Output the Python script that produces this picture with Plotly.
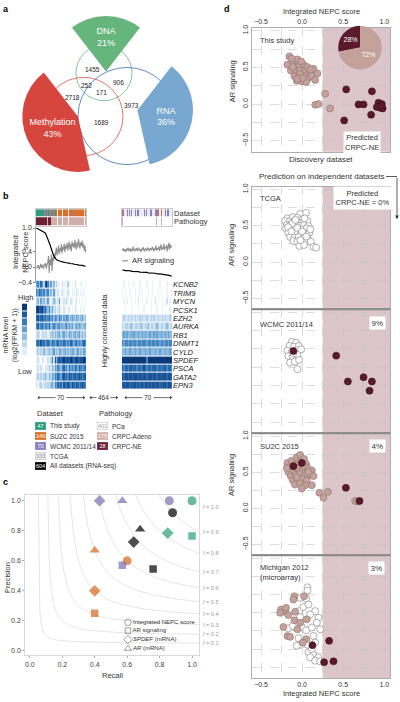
import numpy as np
import plotly.graph_objects as go

W, H = 400, 702
FONT = "Liberation Sans, Arial, Helvetica, sans-serif"
TXT = "#333333"


def PX(v):
    return v / W


def PY(v):
    return 1 - v / H


# ======================= DATA =======================
# ---- panel a ----
omics_labels = ["DNA", "RNA", "Methylation"]
omics_percent = [21, 36, 43]
overlap_counts = [1455, 252, 906, 171, 2718, 3973, 1689]

# ---- panel b ----
genes = ["KCNB2", "TRIM9", "MYCN", "PCSK1", "EZH2", "AURKA", "RB1",
         "DNMT1", "CYLD", "SPDEF", "PSCA", "GATA2", "EPN3"]

# dataset code: 0 This study, 1 SU2C, 2 WCMC, 3 TCGA ; pathology: 0 PCa, 1 CRPC-Adeno, 2 CRPC-NE
ds_left = [0, 0, 0, 0, 0, 0, 0, 0, 0, 0,
           0, 2, 0, 2, 0, 2, 1, 0, 2, 0,
           2, 1, 2, 0, 2, 1, 2, 0, 1, 1,
           3, 1, 1, 1, 1, 1, 1, 3, 1, 1,
           1, 1, 1, 1, 1, 3, 1, 1, 1, 1,
           1, 2, 1, 1, 3, 1, 1, 1, 1, 1,
           1, 3, 1, 1, 1, 1, 1, 3, 1, 1]
path_left = [2, 2, 2, 2, 2, 2, 2, 2, 2, 2,
             2, 2, 2, 2, 2, 2, 1, 2, 2, 2,
             2, 1, 2, 1, 1, 1, 1, 1, 1, 1,
             0, 1, 1, 1, 1, 1, 1, 0, 1, 1,
             1, 1, 1, 1, 1, 0, 1, 1, 1, 1,
             1, 1, 1, 1, 0, 1, 1, 1, 1, 1,
             1, 0, 1, 1, 1, 1, 1, 0, 1, 1]
ds_right = [1, 3, 2, 3, 3, 2, 3, 2, 3, 3,
            2, 3, 3, 2, 3, 2, 3, 3, 2, 3,
            3, 2, 3, 2, 3, 3, 2, 3, 3, 2,
            3, 2, 3, 3, 2, 3, 2, 3, 3, 2,
            3, 2, 3, 1, 3, 3, 2, 3, 1, 2,
            3, 2, 3, 3, 2, 1, 3, 2, 3, 3,
            2, 3, 3, 2, 3, 2, 3, 3, 2, 3]
path_right = [1, 0, 0, 0, 0, 0, 0, 0, 0, 0,
              0, 0, 0, 0, 0, 0, 0, 0, 0, 0,
              0, 0, 0, 0, 0, 0, 0, 0, 0, 0,
              0, 0, 0, 0, 0, 0, 0, 0, 0, 0,
              0, 0, 0, 1, 0, 0, 0, 0, 1, 0,
              0, 0, 0, 0, 0, 1, 0, 0, 0, 0,
              0, 0, 0, 0, 0, 0, 0, 0, 0, 0]

nepc_left = [1.00, 0.99, 0.98, 0.98, 0.97, 0.96, 0.95, 0.95, 0.94, 0.93,
             0.92, 0.90, 0.88, 0.86, 0.82, 0.78, 0.74, 0.69, 0.64, 0.58,
             0.52, 0.45, 0.40, 0.34, 0.30, 0.26, 0.23, 0.21, 0.19, 0.18,
             0.17, 0.16, 0.15, 0.15, 0.14, 0.14, 0.13, 0.13, 0.12, 0.12,
             0.12, 0.11, 0.11, 0.11, 0.10, 0.10, 0.10, 0.09, 0.09, 0.09,
             0.08, 0.08, 0.08, 0.07, 0.07, 0.07, 0.06, 0.06, 0.06, 0.05,
             0.05, 0.05, 0.05, 0.04, 0.04, 0.04, 0.03, 0.03, 0.03, 0.02]
ar_left = [0.00, -0.03, 0.05, 0.02, -0.06, 0.04, 0.08, -0.02, 0.06, 0.01,
           -0.05, 0.07, 0.03, 0.10, -0.04, 0.06, 0.12, 0.28, -0.15, 0.20,
           0.05, 0.32, -0.10, 0.25, 0.15, 0.35, 0.22, 0.38, 0.50, 0.30,
           0.46, 0.55, 0.33, 0.48, 0.40, 0.58, 0.35, 0.52, 0.44, 0.60,
           0.38, 0.55, 0.47, 0.62, 0.42, 0.50, 0.65, 0.45, 0.58, 0.40,
           0.66, 0.52, 0.61, 0.48, 0.70, 0.55, 0.45, 0.64, 0.50, 0.72,
           0.58, 0.47, 0.63, 0.54, 0.68, 0.50, 0.60, 0.42, 0.55, 0.38]
nepc_right = [-0.07, -0.08, -0.08, -0.08, -0.09, -0.09, -0.09, -0.09, -0.10, -0.10,
              -0.10, -0.10, -0.10, -0.11, -0.11, -0.11, -0.11, -0.11, -0.12, -0.12,
              -0.12, -0.12, -0.12, -0.12, -0.13, -0.13, -0.13, -0.13, -0.13, -0.13,
              -0.14, -0.14, -0.14, -0.14, -0.14, -0.14, -0.15, -0.15, -0.15, -0.15,
              -0.15, -0.15, -0.16, -0.16, -0.16, -0.16, -0.16, -0.17, -0.17, -0.17,
              -0.17, -0.17, -0.18, -0.18, -0.18, -0.18, -0.19, -0.19, -0.19, -0.19,
              -0.20, -0.20, -0.20, -0.21, -0.21, -0.21, -0.22, -0.22, -0.23, -0.24]
ar_right = [0.42, 0.48, 0.40, 0.46, 0.44, 0.38, 0.47, 0.43, 0.50, 0.41,
            0.45, 0.48, 0.39, 0.46, 0.42, 0.52, 0.44, 0.40, 0.47, 0.43,
            0.49, 0.41, 0.46, 0.50, 0.42, 0.45, 0.38, 0.47, 0.44, 0.51,
            0.43, 0.40, 0.48, 0.45, 0.42, 0.50, 0.44, 0.47, 0.41, 0.49,
            0.45, 0.43, 0.52, 0.46, 0.40, 0.48, 0.44, 0.55, 0.42, 0.47,
            0.45, 0.53, 0.41, 0.49, 0.58, 0.44, 0.50, 0.46, 0.60, 0.43,
            0.52, 0.48, 0.57, 0.40, 0.55, 0.62, 0.45, 0.58, 0.50, 0.54]

# mRNA level (0 = low .. 9 = high), 35 column-bins per block
heat_left = [
    [5, 6, 4, 7, 5, 3, 8, 9, 6, 3, 5, 2, 4, 1, 3, 1, 1, 0, 2, 1, 1, 0, 3, 1, 0, 1, 0, 2, 1, 0, 0, 1, 0, 0, 1],
    [6, 5, 7, 6, 5, 6, 4, 5, 6, 3, 4, 2, 5, 2, 1, 2, 0, 1, 2, 1, 0, 1, 2, 1, 0, 1, 1, 0, 2, 1, 0, 1, 0, 1, 0],
    [3, 4, 2, 5, 3, 4, 2, 3, 5, 2, 1, 2, 4, 3, 1, 2, 5, 1, 0, 2, 1, 3, 1, 0, 2, 1, 0, 1, 2, 0, 1, 0, 1, 0, 1],
    [8, 9, 7, 8, 9, 6, 7, 5, 4, 6, 3, 5, 2, 3, 1, 2, 3, 1, 0, 2, 1, 0, 1, 2, 0, 1, 0, 2, 1, 0, 0, 1, 0, 1, 0],
    [7, 8, 6, 7, 8, 6, 7, 5, 6, 7, 5, 6, 4, 6, 5, 4, 6, 5, 3, 5, 4, 6, 5, 3, 4, 5, 4, 3, 5, 4, 3, 4, 5, 3, 4],
    [6, 7, 5, 6, 7, 5, 6, 6, 5, 7, 4, 5, 6, 5, 4, 5, 6, 4, 5, 4, 5, 6, 4, 5, 4, 5, 3, 4, 5, 4, 5, 4, 3, 4, 5],
    [2, 3, 2, 1, 3, 2, 2, 3, 1, 2, 3, 4, 3, 4, 3, 4, 5, 3, 4, 5, 3, 4, 3, 5, 4, 3, 4, 5, 3, 4, 5, 3, 4, 3, 4],
    [6, 7, 6, 8, 6, 7, 5, 6, 7, 6, 5, 7, 6, 5, 6, 7, 5, 6, 5, 7, 6, 5, 6, 5, 7, 6, 5, 6, 7, 5, 6, 5, 6, 7, 6],
    [2, 3, 2, 3, 2, 4, 3, 2, 3, 4, 3, 4, 5, 3, 4, 3, 5, 4, 3, 4, 5, 3, 4, 3, 4, 5, 4, 3, 4, 5, 3, 4, 3, 5, 4],
    [1, 2, 1, 0, 2, 1, 0, 1, 2, 1, 3, 6, 2, 8, 4, 7, 8, 7, 8, 9, 7, 8, 8, 7, 9, 8, 7, 8, 9, 8, 7, 8, 8, 9, 8],
    [1, 2, 1, 2, 1, 0, 2, 1, 2, 3, 2, 4, 3, 5, 4, 6, 5, 4, 6, 7, 5, 6, 4, 7, 5, 6, 5, 7, 6, 5, 7, 6, 5, 6, 7],
    [2, 3, 2, 3, 2, 3, 4, 3, 2, 4, 3, 5, 4, 6, 5, 7, 6, 5, 7, 8, 6, 7, 6, 8, 7, 6, 7, 8, 6, 7, 8, 7, 6, 7, 8],
    [2, 1, 2, 3, 1, 2, 3, 2, 3, 2, 4, 5, 3, 6, 5, 7, 6, 7, 5, 8, 7, 6, 8, 7, 6, 8, 7, 6, 8, 7, 6, 7, 8, 7, 6],
]
heat_right = [
    [0, 1, 0, 0, 1, 0, 0, 0, 1, 0, 0, 0, 1, 0, 0, 0, 0, 1, 0, 0, 0, 1, 0, 0, 0, 0, 1, 0, 0, 0, 0, 1, 0, 0, 0],
    [1, 0, 1, 0, 0, 1, 0, 0, 0, 1, 0, 0, 1, 0, 1, 0, 0, 0, 1, 0, 0, 1, 0, 0, 0, 1, 0, 1, 0, 0, 0, 1, 0, 0, 1],
    [0, 1, 0, 1, 0, 0, 1, 0, 0, 1, 0, 2, 0, 0, 1, 0, 0, 1, 0, 0, 1, 0, 0, 2, 0, 1, 0, 0, 1, 0, 0, 2, 0, 1, 0],
    [0, 0, 1, 0, 0, 0, 1, 0, 0, 0, 0, 1, 0, 0, 0, 1, 0, 0, 0, 0, 1, 0, 0, 0, 1, 0, 0, 0, 1, 0, 0, 0, 0, 1, 0],
    [2, 3, 2, 2, 3, 2, 3, 2, 2, 3, 2, 2, 3, 2, 3, 2, 2, 3, 2, 2, 3, 2, 3, 2, 2, 3, 2, 2, 3, 2, 3, 2, 2, 3, 2],
    [3, 2, 3, 3, 2, 3, 4, 3, 2, 3, 3, 2, 3, 4, 3, 2, 3, 3, 4, 2, 3, 3, 2, 3, 4, 3, 2, 3, 3, 2, 3, 4, 3, 2, 3],
    [4, 5, 4, 5, 4, 4, 5, 4, 5, 4, 4, 5, 4, 4, 5, 4, 5, 4, 4, 5, 4, 4, 5, 4, 5, 4, 4, 5, 4, 4, 5, 4, 5, 4, 4],
    [6, 5, 6, 6, 5, 6, 6, 5, 6, 6, 5, 6, 6, 5, 6, 6, 6, 5, 6, 6, 5, 6, 6, 5, 6, 6, 5, 6, 6, 5, 6, 6, 5, 6, 6],
    [4, 4, 5, 4, 4, 5, 4, 4, 4, 5, 4, 4, 5, 4, 4, 4, 5, 4, 4, 5, 4, 4, 4, 5, 4, 4, 5, 4, 4, 4, 5, 4, 4, 5, 4],
    [9, 9, 9, 9, 9, 9, 9, 9, 9, 9, 9, 9, 9, 9, 9, 9, 9, 6, 9, 9, 9, 9, 9, 9, 9, 9, 9, 9, 9, 9, 9, 9, 9, 9, 9],
    [7, 6, 7, 7, 6, 7, 8, 6, 7, 7, 6, 7, 7, 6, 7, 8, 7, 6, 7, 7, 6, 7, 7, 8, 6, 7, 7, 6, 7, 7, 8, 6, 7, 7, 6],
    [8, 7, 8, 8, 7, 8, 8, 7, 8, 8, 8, 7, 8, 8, 7, 8, 8, 7, 8, 8, 8, 7, 8, 8, 7, 8, 8, 7, 8, 8, 8, 7, 8, 8, 7],
    [7, 8, 7, 8, 8, 7, 8, 7, 8, 8, 7, 8, 7, 8, 8, 7, 8, 8, 7, 8, 7, 8, 8, 7, 8, 8, 7, 8, 7, 8, 8, 7, 8, 8, 7],
]
key_levels = [0, 1.3, 2.6, 3.9, 5.1, 6.4, 7.7, 9]
block_sizes = ["70", "464", "70"]

dataset_names = ["This study", "SU2C 2015", "WCMC 2011/14", "TCGA", "All datasets (RNA-seq)"]
dataset_n = ["47", "149", "70", "333", "604"]
pathology_names = ["PCa", "CRPC-Adeno", "CRPC-NE"]
pathology_n = ["401", "175", "28"]

# ---- panel c ----
pr_methods = ["Integrated NEPC score", "AR signaling", "<i>SPDEF</i> (mRNA)", "<i>AR</i> (mRNA)"]
pr_groups = ["This study", "SU2C 2015", "WCMC 2011/14", "All datasets"]
recall_this = [1.00, 1.00, 0.85, None]
precision_this = [1.00, 0.765, 0.785, None]
recall_su2c = [0.60, 0.40, 0.40, 0.40]
precision_su2c = [0.60, 0.25, 0.40, 0.67]
recall_wcmc = [0.86, 0.57, 0.43, 0.57]
precision_wcmc = [1.00, 0.57, 1.00, 1.00]
recall_all = [0.88, 0.76, 0.64, 0.68]
precision_all = [0.92, 0.545, 0.725, 0.81]
f_levels = [0.1, 0.2, 0.3, 0.4, 0.5, 0.6, 0.7, 0.8, 0.9, 1.0]

# ---- panel d ----
nepc_ticks = [-0.5, -0.25, 0.0, 0.25, 0.5, 0.75, 1.0]
ne_cutoff = 0.25
study_pred_pct = [28, 72]

study_adeno_x = [-0.155, -0.179, -0.114, -0.057, -0.085, -0.033, 0.016, -0.138, -0.077, -0.024,
                 0.037, 0.089, -0.094, -0.037, 0.024, 0.077, -0.065, -0.004, 0.049, 0.118,
                 0.159, 0.187, -0.012, -0.114, -0.024, -0.057, 0.065, 0.138, 0.008, -0.13,
                 0.10, 0.16, 0.20, 0.28, 0.34]
study_adeno_y = [0.650, 0.537, 0.582, 0.609, 0.505, 0.528, 0.537, 0.459, 0.437, 0.459,
                 0.459, 0.427, 0.382, 0.382, 0.382, 0.355, 0.318, 0.309, 0.300, 0.391,
                 0.327, 0.418, 0.582, 0.505, 0.414, 0.345, 0.505, 0.482, 0.355, 0.62,
                 0.47, -0.01, 0.00, 0.14, -0.06]
study_ne_x = [0.537, 0.687, 0.748, 0.85, 0.512, 0.84, 0.93, 0.97, 0.95, 0.98, 0.91, 0.965]
study_ne_y = [0.20, -0.005, -0.005, 0.173, -0.223, -0.146, 0.018, 0.0, -0.05, -0.06, -0.04, -0.025]

tcga_x = [-0.024, 0.049, -0.179, -0.114, -0.057, -0.004, -0.207, -0.154, -0.093, -0.037,
          0.016, 0.065, -0.187, -0.138, -0.077, -0.024, 0.024, 0.077, -0.195, -0.146,
          -0.098, -0.045, 0.008, 0.057, -0.167, -0.114, -0.065, -0.016, 0.037, 0.089,
          -0.146, -0.093, -0.041, 0.016, 0.065, -0.106, -0.057, -0.004, 0.049, 0.106,
          -0.033, 0.024, 0.138, 0.171, -0.12, -0.06, 0.0, -0.08, 0.03, -0.17,
          -0.02, 0.05, -0.13, 0.10]
tcga_y = [0.662, 0.676, 0.599, 0.617, 0.608, 0.585, 0.563, 0.554, 0.563, 0.540,
          0.554, 0.563, 0.508, 0.517, 0.508, 0.495, 0.508, 0.495, 0.463, 0.449,
          0.463, 0.436, 0.449, 0.463, 0.404, 0.390, 0.404, 0.381, 0.390, 0.404,
          0.345, 0.336, 0.345, 0.327, 0.336, 0.290, 0.281, 0.267, 0.290, 0.281,
          0.222, 0.236, 0.208, 0.199, 0.53, 0.47, 0.42, 0.58, 0.60, 0.48,
          0.30, 0.35, 0.42, 0.45]

wcmc_pca_x = [-0.126, -0.073, -0.154, -0.098, -0.041, -0.179, -0.126, -0.065, -0.012, -0.167,
              -0.114, -0.057, -0.146, -0.089, -0.037, -0.057, -0.106]
wcmc_pca_y = [0.598, 0.585, 0.540, 0.530, 0.540, 0.476, 0.463, 0.485, 0.494, 0.404,
              0.395, 0.418, 0.314, 0.328, 0.350, 0.224, 0.440]
wcmc_ne_x = [-0.106, 0.415, 0.557, 0.748, 0.85, 0.821]
wcmc_ne_y = [0.471, 0.409, 0.057, 0.115, 0.057, -0.069]

su2c_adeno_x = [-0.179, -0.126, -0.065, -0.024, 0.024, -0.146, -0.085, -0.033, 0.049, -0.167,
                -0.106, -0.053, 0.004, 0.065, 0.118, -0.138, -0.077, -0.024, 0.037, 0.098,
                -0.114, -0.057, 0.0, 0.057, 0.138, -0.085, -0.024, 0.037, 0.118, -0.004,
                0.211, 0.260, 0.313, 0.646, 0.675, -0.187, 0.016, 0.077, -0.065]
su2c_adeno_y = [0.629, 0.661, 0.707, 0.739, 0.684, 0.571, 0.603, 0.639, 0.616, 0.502,
                0.525, 0.557, 0.539, 0.557, 0.525, 0.447, 0.465, 0.479, 0.457, 0.465,
                0.388, 0.402, 0.411, 0.388, 0.447, 0.329, 0.343, 0.320, 0.320, 0.275,
                0.215, 0.147, 0.229, 0.102, 0.093, 0.557, 0.593, 0.502, 0.434]
su2c_ne_x = [-0.106, -0.004, 0.533, 0.699]
su2c_ne_y = [0.584, 0.630, 0.284, 0.102]

mich_pca_x = [0.065, 0.065, -0.024, 0.049, -0.033, 0.016, 0.077, 0.159, 0.098, -0.024,
              0.199, -0.167, -0.114, -0.004, 0.049, 0.118, 0.220, -0.045, 0.138, -0.024,
              0.065, 0.159, -0.065, 0.077, 0.138, 0.199, 0.098, 0.159, 0.220, 0.179, 0.118]
mich_pca_y = [0.599, 0.554, 0.454, 0.444, 0.272, 0.327, 0.363, 0.272, 0.227, 0.190,
              0.181, 0.036, 0.068, 0.054, 0.009, 0.045, 0.022, -0.100, -0.069, -0.191,
              -0.191, -0.160, -0.204, -0.295, -0.327, -0.363, -0.363, -0.409, -0.418, 0.113, -0.250]
mich_adeno_x = [-0.093, -0.106, 0.024, -0.256, -0.207, -0.167, -0.085, -0.093, 0.057, -0.228,
                -0.057, -0.179, -0.146, 0.049, 0.008, -0.268, -0.195, -0.024]
mich_adeno_y = [0.476, 0.431, 0.476, 0.295, 0.263, 0.218, 0.263, 0.145, 0.159, 0.054,
                0.022, -0.069, -0.082, -0.114, -0.160, 0.249, 0.318, 0.113]
mich_ne_x = [0.329, 0.126, 0.268, 0.382]
mich_ne_y = [-0.137, -0.196, -0.431, -0.418]

d_panel_names = ["This study", "TCGA", "WCMC 2011/14", "SU2C 2015", "Michigan 2012<br>(microarray)"]
d_pred_text = [None, "Predicted<br>CRPC-NE = 0%", "9%", "4%", "3%"]

# ======================= STYLE =======================
omics_colors = ["#66b57c", "#78a8cf", "#d6463f"]
omics_pull = [0.57, 0.58, 0.56]
venn_circles_px = [(104, 70.5, 28, "#79bf8d"), (83.5, 114.5, 39.5, "#df625b"), (127, 114, 49, "#4e80c2")]
overlap_pos_px = [(92, 67), (86, 83), (118, 80), (101, 90), (72, 95), (131, 103), (101, 121)]

dataset_colors = ["#2a9d78", "#d8702a", "#8a7fbf", "#ecebf3"]
pathology_colors = ["#ffffff", "#d1aea8", "#6a1f34"]
blues = [[0, "#ffffff"], [0.15, "#e2edf8"], [0.35, "#b0cfe9"], [0.55, "#68a3d4"],
         [0.75, "#2c6fb2"], [1, "#0b3a7a"]]
group_colors = ["#2a9d78", "#d2691e", "#7b6db0", "#000000"]
method_symbols = ["circle", "square", "diamond", "triangle-up"]
method_sizes = [9, 7.5, 9, 9]

C_ADENO, L_ADENO = "#c4a19b", "#8d7470"
C_NE, L_NE = "#5a1a2c", "#3a0f1c"
C_PCA, L_PCA = "#ffffff", "#7a7a7a"
SHADE = "#dcc6cb"

fig = go.Figure()
shapes = []
anns = []


def text(t, px, py, size=7, color=TXT, xanchor="center", yanchor="middle", angle=0, **kw):
    d = dict(text=t, x=PX(px), y=PY(py), xref="paper", yref="paper", showarrow=False,
             font=dict(family=FONT, size=size, color=color), xanchor=xanchor,
             yanchor=yanchor, textangle=angle)
    d.update(kw)
    anns.append(d)


# ======================= PANEL A =======================
fig.add_trace(go.Pie(
    labels=omics_labels, values=omics_percent, sort=False, direction="clockwise",
    rotation=-omics_percent[0] * 3.6 / 2, pull=omics_pull,
    marker=dict(colors=omics_colors, line=dict(width=0)),
    textinfo="label+percent", textposition="inside", insidetextorientation="horizontal",
    insidetextfont=dict(family=FONT, size=9, color="white"),
    domain=dict(x=[PX(17.5), PX(194.5)], y=[PY(189.5), PY(12.5)]),
    hoverinfo="skip", showlegend=False))
for cx, cy, r, col in venn_circles_px:
    shapes.append(dict(type="circle", xref="paper", yref="paper",
                       x0=PX(cx - r), x1=PX(cx + r), y0=PY(cy + r), y1=PY(cy - r),
                       line=dict(color=col, width=0.9), layer="below"))
for cnt, (px, py) in zip(overlap_counts, overlap_pos_px):
    text(str(cnt), px, py, 6.5, "#222")
text("<b>a</b>", 1, 6, 9, "#000", xanchor="left")

# ======================= PANEL B =======================
cat_colors = dataset_colors + pathology_colors
ncat = len(cat_colors)
cat_scale = []
for k, c in enumerate(cat_colors):
    cat_scale += [[k / ncat, c], [(k + 1) / ncat, c]]
for ds, pa, ax in ((ds_left, path_left, ""), (ds_right, path_right, "2")):
    fig.add_trace(go.Heatmap(z=[[p + 4 for p in pa], ds], x=list(range(len(ds))), y=[0, 1],
                             colorscale=cat_scale, zmin=-0.5, zmax=ncat - 0.5, showscale=False,
                             ygap=1, xaxis="x" + ax, yaxis="y" + ax, hoverinfo="skip"))
for nepc, ar, ax in ((nepc_left, ar_left, "3"), (nepc_right, ar_right, "4")):
    fig.add_trace(go.Scatter(x=list(range(len(ar))), y=ar, mode="lines",
                             line=dict(color="#8f8f8f", width=1.1), xaxis="x" + ax, yaxis="y" + ax,
                             hoverinfo="skip", showlegend=False))
    fig.add_trace(go.Scatter(x=list(range(len(nepc))), y=nepc, mode="lines",
                             line=dict(color="#000000", width=1.2), xaxis="x" + ax, yaxis="y" + ax,
                             hoverinfo="skip", showlegend=False))
for hz, ax in ((heat_left, "5"), (heat_right, "6")):
    fig.add_trace(go.Heatmap(z=hz, x=list(range(len(hz[0]))), y=list(range(len(hz))),
                             colorscale=blues, zmin=0, zmax=9, showscale=False, ygap=1,
                             xaxis="x" + ax, yaxis="y" + ax, hoverinfo="skip"))
fig.add_trace(go.Heatmap(z=[[v] for v in key_levels], x=[0], y=list(range(len(key_levels))),
                         colorscale=blues, zmin=0, zmax=9, showscale=False, ygap=1,
                         xaxis="x7", yaxis="y7", hoverinfo="skip"))

text("<b>b</b>", 1, 195, 9, "#000", xanchor="left")
text("Integrated<br>NEPC score", 21, 252, 7.5, angle=-90)
shapes.append(dict(type="line", xref="paper", yref="paper", x0=PX(122), x1=PX(128),
                   y0=PY(260), y1=PY(260), line=dict(color="#8f8f8f", width=1.2)))
text("AR signaling", 130, 260, 7.5, xanchor="left")
text("mRNA level<br>(log2(FPKM + 1))", 10, 335, 7, angle=-90)
text("High", 25, 297, 7.5)
text("Low", 25, 372, 7.5)
text("Highly correlated data", 104, 330, 7.5, angle=-90)

# block-size arrows
arrow_spans = [(36, 85, 61), (88, 118, 103), (123, 172, 148)]
for (x0, x1, xm), lab in zip(arrow_spans, block_sizes):
    anns.append(dict(x=PX(x1), y=PY(398), xref="paper", yref="paper", ax=-(x1 - x0), ay=0,
                     text="", showarrow=True, arrowhead=1, arrowside="end+start",
                     arrowsize=0.9, arrowwidth=0.7, arrowcolor="#333"))
    text(lab, xm, 398, 6.5, bgcolor="white", borderpad=1)

# dataset / pathology legends
text("Dataset", 35, 414, 7.5, xanchor="left")
text("Pathology", 97, 414, 7.5, xanchor="left")
leg_rows = [427, 437, 447, 457, 467]
box_fill = dataset_colors[:4] + ["#000000"]
box_font = ["white", "white", "white", "#999999", "white"]
for name, n, fill, fc, py in zip(dataset_names, dataset_n, box_fill, box_font, leg_rows):
    text(n, 40.5, py, 5.5, fc, bgcolor=fill, width=10, height=7, borderpad=0,
         bordercolor="#bbbbbb" if fill == dataset_colors[3] else fill, borderwidth=0.5)
    text(name, 48, py, 6.5, xanchor="left")
path_font = ["#999999", "white", "white"]
for name, n, fill, fc, py in zip(pathology_names, pathology_n, pathology_colors, path_font, leg_rows):
    text(n, 102.5, py, 5.5, fc, bgcolor=fill, width=10, height=7, borderpad=0,
         bordercolor="#bbbbbb" if fill == "#ffffff" else fill, borderwidth=0.5)
    text(name, 110, py, 6.5, xanchor="left")

# ======================= PANEL C =======================
for f in f_levels:
    r_start = f * 1.04 / (2 * 1.04 - f)
    R = np.linspace(r_start, 1.045, 220)
    P = f * R / (2 * R - f)
    fig.add_trace(go.Scatter(x=R, y=P, mode="lines", line=dict(color="#dedede", width=0.8),
                             xaxis="x8", yaxis="y8", hoverinfo="skip", showlegend=False))
    text(f"<i>f</i> = {f:.1f}", 200.5, 0, 5.5, "#9a9a9a", xanchor="left")
    anns[-1]["yref"] = "y8"
    anns[-1]["y"] = f * 1.043 / (2 * 1.043 - f)

groups_pr = [(recall_this, precision_this), (recall_su2c, precision_su2c),
             (recall_wcmc, precision_wcmc), (recall_all, precision_all)]
for (rc, pr), col in zip(groups_pr, group_colors):
    fig.add_trace(go.Scatter(x=rc, y=pr, mode="markers",
                             marker=dict(symbol=method_symbols, size=method_sizes, color=col,
                                         line=dict(width=0)),
                             xaxis="x8", yaxis="y8", hoverinfo="skip", showlegend=False))
# legend key for the four predictors
fig.add_trace(go.Scatter(x=[0.605] * 4, y=[0.19, 0.135, 0.075, 0.015], mode="markers+text",
                         marker=dict(symbol=[s + "-open" for s in method_symbols], size=[6.5, 5.5, 6.5, 6.5],
                                     color="#555555", line=dict(width=0.8)),
                         text=pr_methods, textposition="middle right",
                         textfont=dict(family=FONT, size=6, color=TXT),
                         xaxis="x8", yaxis="y8", hoverinfo="skip", showlegend=False, cliponaxis=False))
text("<b>c</b>", 1, 483, 9, "#000", xanchor="left")
text("Recall", 112, 678, 7.5)
text("Precision", 7, 580, 7.5, angle=-90)

# ======================= PANEL D =======================
d_dom_px = [(25, 150), (185, 309), (309, 434), (434, 557), (557, 681)]
d_points = [
    [(study_adeno_x, study_adeno_y, C_ADENO, L_ADENO), (study_ne_x, study_ne_y, C_NE, L_NE)],
    [(tcga_x, tcga_y, C_PCA, L_PCA)],
    [(wcmc_pca_x, wcmc_pca_y, C_PCA, L_PCA), (wcmc_ne_x, wcmc_ne_y, C_NE, L_NE)],
    [(su2c_adeno_x, su2c_adeno_y, C_ADENO, L_ADENO), (su2c_ne_x, su2c_ne_y, C_NE, L_NE)],
    [(mich_pca_x, mich_pca_y, C_PCA, L_PCA), (mich_adeno_x, mich_adeno_y, C_ADENO, L_ADENO),
     (mich_ne_x, mich_ne_y, C_NE, L_NE)],
]
XR = [-0.61, 1.07]
YR = [-0.65, 1.04]
for k, pts in enumerate(d_points):
    xa, ya = f"x{9 + k}", f"y{9 + k}"
    for xs, ys, fc, lc in pts:
        fig.add_trace(go.Scatter(x=xs, y=ys, mode="markers",
                                 marker=dict(size=7, color=fc, line=dict(width=0.6, color=lc)),
                                 xaxis=xa, yaxis=ya, hoverinfo="skip", showlegend=False))
    shapes.append(dict(type="rect", xref=xa, yref=ya + " domain", x0=ne_cutoff, x1=XR[1],
                       y0=0, y1=1, fillcolor=SHADE, line=dict(width=0), layer="below"))

# inset pie: CRPC-NE share runs from 12 o'clock towards the left
fig.add_trace(go.Pie(values=study_pred_pct, labels=["CRPC-NE", "other"], sort=False,
                     direction="clockwise", rotation=-study_pred_pct[0] * 3.6,
                     marker=dict(colors=[C_NE, C_ADENO], line=dict(width=0)),
                     textinfo="percent", textposition="inside", insidetextorientation="horizontal",
                     insidetextfont=dict(family=FONT, size=7, color="white"),
                     domain=dict(x=[PX(338), PX(382)], y=[PY(67), PY(23)]),
                     hoverinfo="skip", showlegend=False))

for yb in (309, 434, 557):
    shapes.append(dict(type="line", xref="paper", yref="paper", x0=PX(252), x1=PX(390),
                       y0=PY(yb), y1=PY(yb), line=dict(color="#8a8a8a", width=2)))
shapes.append(dict(type="line", xref="paper", yref="paper", x0=PX(386), x1=PX(397),
                   y0=PY(175), y1=PY(175), line=dict(color="#333", width=0.8)))
anns.append(dict(x=PX(397), y=PY(218), xref="paper", yref="paper", ax=0, ay=-43, text="",
                 showarrow=True, arrowhead=2, arrowsize=0.9, arrowwidth=0.8, arrowcolor="#333"))

text("<b>d</b>", 222, 6, 9, "#000", xanchor="left")
text("Integrated NEPC score", 321, 9, 7.5)
text("Integrated NEPC score", 321, 696, 7.5)
text("Discovery dataset", 321, 158, 8)
text("Prediction on independent datasets", 321, 175, 8)
for py in (79, 244, 476):
    text("AR signaling", 232, py, 7.5, angle=-90)
name_pos = [38, 197, 324, 447, 574]
for nm, py in zip(d_panel_names, name_pos):
    text(nm, 258, py, 7.5, xanchor="left", align="left")
text("Predicted<br>CRPC-NE", 362, 141, 7.5, bgcolor="white", borderpad=1)
pred_pos = [None, (362, 197), (377, 323), (377, 447), (376, 570)]
for t, pos in zip(d_pred_text, pred_pos):
    if t is None:
        continue
    text(t, pos[0], pos[1], 7.5 if "<br>" in t else 8, bgcolor="white", borderpad=1.5)

# ======================= LAYOUT / AXES =======================
tf7 = dict(family=FONT, size=7, color=TXT)
frame = dict(showline=True, mirror=True, linecolor="#a8a8a8", linewidth=0.6, ticks="",
             showticklabels=False, showgrid=False, zeroline=False, fixedrange=True)
axes = {}
axes["xaxis"] = dict(frame, domain=[PX(36), PX(86)], range=[-0.5, 69.5], anchor="y")
axes["yaxis"] = dict(frame, domain=[PY(225), PY(208)], range=[-0.5, 1.5], anchor="x")
axes["xaxis2"] = dict(frame, domain=[PX(122), PX(172)], range=[-0.5, 69.5], anchor="y2")
axes["yaxis2"] = dict(frame, domain=[PY(225), PY(208)], range=[-0.5, 1.5], anchor="x2",
                      side="right", showticklabels=True, tickvals=[0, 1],
                      ticktext=["Pathology", "Dataset"], tickfont=dict(family=FONT, size=7.5, color=TXT))
axes["xaxis3"] = dict(domain=[PX(36), PX(86)], range=[-0.5, 69.5], anchor="y3", visible=False)
axes["yaxis3"] = dict(domain=[PY(282.8), PY(226.2)], range=[-0.42, 1.02], anchor="x3",
                      showline=True, linecolor="#888", linewidth=0.8, ticks="outside", ticklen=2,
                      tickcolor="#888", tickvals=[-0.4, 0, 0.4, 1.0],
                      ticktext=["\u22120.4", "0.0", "0.4", "1.0"], tickfont=tf7,
                      showgrid=False, zeroline=False)
axes["xaxis4"] = dict(domain=[PX(122), PX(172)], range=[-0.5, 69.5], anchor="y4", visible=False)
axes["yaxis4"] = dict(domain=[PY(282.8), PY(226.2)], range=[-0.42, 1.02], anchor="x4", visible=False)
axes["xaxis5"] = dict(domain=[PX(36), PX(86)], range=[-0.5, 34.5], anchor="y5", visible=False)
axes["yaxis5"] = dict(domain=[PY(390), PY(280)], range=[12.5, -0.5], anchor="x5", visible=False)
axes["xaxis6"] = dict(domain=[PX(122), PX(172)], range=[-0.5, 34.5], anchor="y6", visible=False)
axes["yaxis6"] = dict(domain=[PY(390), PY(280)], range=[12.5, -0.5], anchor="x6", side="right",
                      tickvals=list(range(len(genes))), ticktext=[f"<i>{g}</i>" for g in genes],
                      ticks="", showline=False, showgrid=False, zeroline=False,
                      tickfont=dict(family=FONT, size=7.5, color="#222"))
axes["xaxis7"] = dict(domain=[PX(22), PX(27)], range=[-0.5, 0.5], anchor="y7", visible=False)
axes["yaxis7"] = dict(domain=[PY(364), PY(303)], range=[-0.5, 7.5], anchor="x7", visible=False)
c_ticks = [0, 0.2, 0.4, 0.6, 0.8, 1.0]
c_ax = dict(tickvals=c_ticks, ticktext=[f"{v:.1f}" for v in c_ticks], showline=True, mirror=True,
            linecolor="#d0d0d0", linewidth=0.8, ticks="outside", ticklen=2, tickcolor="#aaa",
            tickfont=dict(family=FONT, size=7, color="#444"), showgrid=False, zeroline=False)
axes["xaxis8"] = dict(c_ax, domain=[PX(25), PX(199)], range=[-0.03, 1.043], anchor="y8")
axes["yaxis8"] = dict(c_ax, domain=[PY(658), PY(496)], range=[-0.03, 1.04], anchor="x8")

tick_lab = ["\u22120.5", "", "0.0", "", "0.5", "", "1.0"]
d_grid = dict(showgrid=True, gridcolor="#c4c4c4", griddash="dash", gridwidth=0.6,
              showline=True, mirror=True, linecolor="#9a9a9a", linewidth=0.8, ticks="",
              zeroline=False, tickvals=nepc_ticks, ticktext=tick_lab, tickfont=tf7)
for k, (top, bot) in enumerate(d_dom_px):
    xn, yn = f"xaxis{9 + k}", f"yaxis{9 + k}"
    axes[xn] = dict(d_grid, domain=[PX(252), PX(390)], range=XR, anchor=f"y{9 + k}",
                    showticklabels=(k in (0, 4)), side="top" if k == 0 else "bottom")
    axes[yn] = dict(d_grid, domain=[PY(bot), PY(top)], range=YR, anchor=f"x{9 + k}",
                    showticklabels=(k in (0, 1, 3)), tickangle=-90)

fig.update_layout(
    width=W, height=H, margin=dict(l=0, r=0, t=0, b=0),
    paper_bgcolor="white", plot_bgcolor="rgba(0,0,0,0)",
    showlegend=False, font=dict(family=FONT, size=7, color=TXT),
    shapes=shapes, annotations=anns, **axes)

# the page's default 8px body margin would shift the 400x702 figure; remove it
fig.write_html("out.html", config={"displayModeBar": False, "staticPlot": True},
               post_script="document.body.style.margin='0px';")
